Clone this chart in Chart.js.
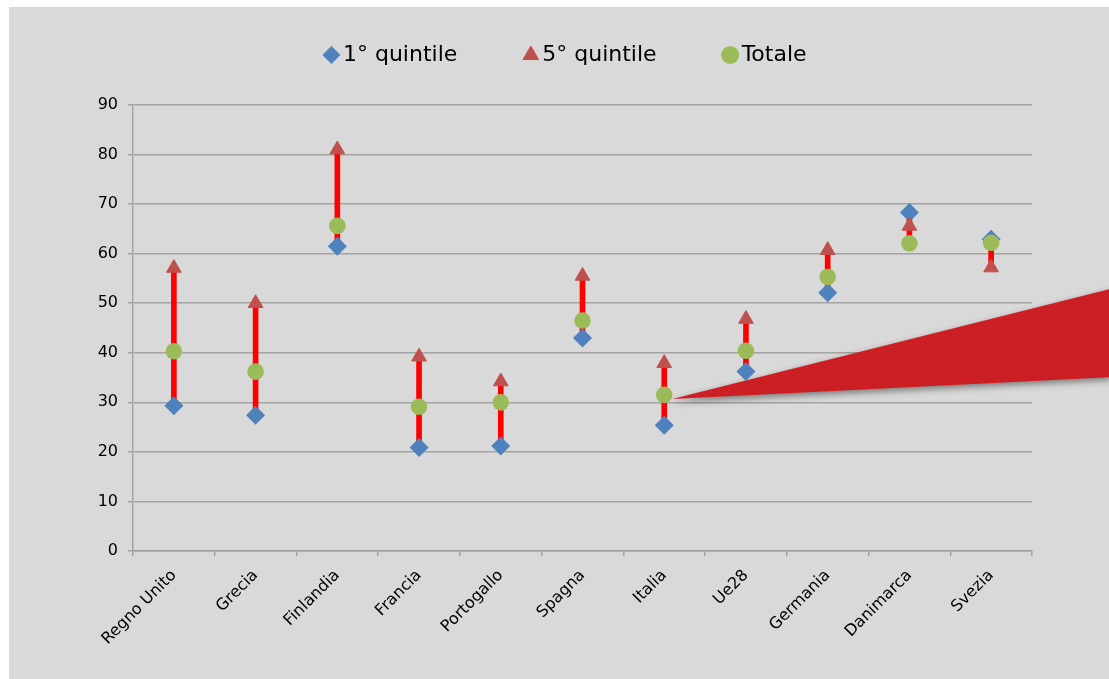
<!DOCTYPE html>
<html>
<head>
<meta charset="utf-8">
<script src="https://cdn.jsdelivr.net/npm/chart.js@4.4.1/dist/chart.umd.min.js"></script>
<style>
  html, body { margin: 0; padding: 0; background: #ffffff; width: 1109px; height: 679px; overflow: hidden; position: relative; }
  #panel { position: absolute; left: 9px; top: 7px; width: 1100px; height: 672px; background: #d9d9d9; }
  #chart { position: absolute; left: 9px; top: -29px; }
</style>
</head>
<body>
<div id="panel"></div>
<canvas id="chart" width="1100" height="708"></canvas>
<script>
// Categories and series
const categories = ['Regno Unito', 'Grecia', 'Finlandia', 'Francia', 'Portogallo', 'Spagna',
                    'Italia', 'Ue28', 'Germania', 'Danimarca', 'Svezia'];
const quintile1 = [29.3, 27.4, 61.5, 20.9, 21.2, 43.0, 25.4, 36.2, 52.1, 68.3, 62.9];
const quintile5 = [57.1, 50.0, 81.0, 39.2, 34.2, 55.5, 37.9, 46.8, 60.7, 65.6, 57.2];
const totale    = [40.3, 36.2, 65.6, 29.1, 30.0, 46.5, 31.5, 40.4, 55.3, 62.1, 62.2];
const seriesNames = ['1° quintile', '5° quintile', 'Totale'];
const yTicks = [0, 10, 20, 30, 40, 50, 60, 70, 80, 90];

// High-low range per category (min to max of the three series)
const ranges = categories.map((_, i) => {
  const v = [quintile1[i], quintile5[i], totale[i]];
  return [Math.min(...v), Math.max(...v)];
});

const FONT = "'DejaVu Sans', sans-serif";
const GRID = '#a3a3a3';

// Extra room between the legend row and the plot
const legendSpacer = {
  id: 'legendSpacer',
  afterInit(chart) {
    const fit = chart.legend.fit;
    chart.legend.fit = function () { fit.call(this); this.height += 29; };
  }
};

// Red callout wedge pointing at the Italia "Totale" marker
const calloutWedge = {
  id: 'calloutWedge',
  beforeDatasetsDraw(chart) {
    const { ctx, scales: { x, y }, width } = chart;
    const i = categories.indexOf('Italia');
    const tipX = x.getPixelForValue(i) + 8;
    const tipY = y.getPixelForValue(totale[i]) + 4;
    const topY = y.getPixelForValue(52.9);
    const botY = y.getPixelForValue(35.1);
    ctx.save();
    ctx.shadowColor = 'rgba(0,0,0,0.45)';
    ctx.shadowBlur = 7;
    ctx.shadowOffsetX = 0;
    ctx.shadowOffsetY = 3;
    ctx.fillStyle = '#cc1f24';
    ctx.beginPath();
    ctx.moveTo(tipX, tipY);
    ctx.lineTo(width + 2, topY);
    ctx.lineTo(width + 2, botY);
    ctx.closePath();
    ctx.fill();
    ctx.restore();
  }
};

new Chart(document.getElementById('chart'), {
  type: 'bar',
  data: {
    labels: categories,
    datasets: [
      {
        type: 'line', label: seriesNames[0], data: quintile1, showLine: false, order: 3,
        pointStyle: 'rectRot', pointRadius: 9.5, pointBorderWidth: 0,
        backgroundColor: '#4f81bd', borderColor: '#4f81bd'
      },
      {
        type: 'line', label: seriesNames[1], data: quintile5, showLine: false, order: 2,
        pointStyle: 'triangle', pointRadius: 8.5, pointBorderWidth: 1,
        backgroundColor: '#c0504d', borderColor: '#c0504d'
      },
      {
        type: 'line', label: seriesNames[2], data: totale, showLine: false, order: 1,
        pointStyle: 'circle', pointRadius: 8.3, pointBorderWidth: 0,
        backgroundColor: '#9bbb59', borderColor: '#9bbb59'
      },
      {
        type: 'bar', label: 'range', data: ranges, order: 4,
        backgroundColor: '#ff0000', borderWidth: 0, barThickness: 5, borderSkipped: false
      }
    ]
  },
  options: {
    responsive: false,
    animation: false,
    events: [],
    devicePixelRatio: 1,
    layout: { padding: { left: 76, right: 56.5, top: 0, bottom: 0 } },
    plugins: {
      tooltip: { enabled: false },
      legend: {
        position: 'top',
        align: 'center',
        labels: {
          usePointStyle: true,
          boxWidth: 1,
          boxHeight: 12.73,
          padding: 73,
          color: '#000000',
          font: { family: FONT, size: 22 },
          filter: (item) => item.datasetIndex < 3,
          sort: (a, b) => a.datasetIndex - b.datasetIndex
        }
      }
    },
    scales: {
      x: {
        type: 'category',
        offset: true,
        afterFit: (s) => { s.height = 128; },
        grid: { offset: true, drawOnChartArea: false, drawTicks: true, tickLength: 5, color: GRID, lineWidth: 1.5 },
        border: { color: GRID, width: 1.5 },
        ticks: {
          autoSkip: false, minRotation: 45, maxRotation: 45, padding: 10,
          color: '#000000', font: { family: FONT, size: 16 }
        }
      },
      y: {
        min: yTicks[0],
        max: yTicks[yTicks.length - 1],
        afterFit: (s) => { s.width = 48; },
        grid: { color: GRID, lineWidth: 1.5, tickLength: 5, drawTicks: true },
        border: { color: GRID, width: 1.5 },
        ticks: {
          stepSize: yTicks[1] - yTicks[0], padding: 10,
          color: '#000000', font: { family: FONT, size: 16 }
        }
      },
      // empty margin on the right of the plot
      yRight: {
        type: 'linear',
        position: 'right',
        afterFit: (s) => { s.width = 20.5; },
        grid: { display: false },
        border: { display: false },
        ticks: { display: false }
      }
    }
  },
  plugins: [legendSpacer, calloutWedge]
});
</script>
</body>
</html>
